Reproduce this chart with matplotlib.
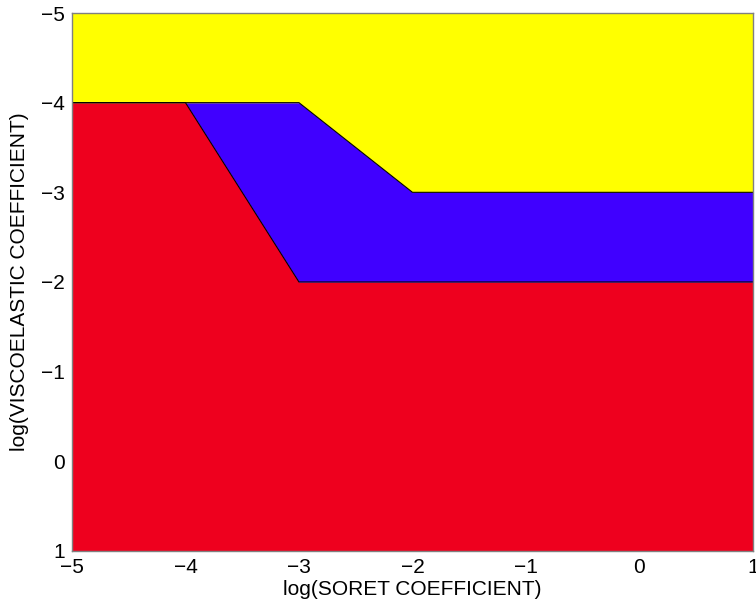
import numpy as np
import matplotlib
matplotlib.use("Agg")
import matplotlib.pyplot as plt

plt.rcParams['font.family'] = ['Liberation Sans', 'DejaVu Sans']

# boundary curves: log(soret) vs log(viscoelastic)
x_lower = [-5, -4, -3, 1]
y_lower = [-4, -4, -2, -2]
x_upper = [-5, -4, -3, -2, 1]
y_upper = [-4, -4, -4, -3, -3]

x_ticks = [-5, -4, -3, -2, -1, 0, 1]
y_ticks = [-5, -4, -3, -2, -1, 0, 1]

red = '#EE001E'
blue = '#4000FF'
yellow = '#FFFF00'

fig = plt.figure(figsize=(7.56, 6.08), dpi=100)
ax = fig.add_axes([0.0952, 0.0938, 0.9008, 0.8848])

xs = np.array([-5, -4, -3, -2, 1], dtype=float)
lo = np.interp(xs, x_lower, y_lower)
hi = np.interp(xs, x_upper, y_upper)

ax.fill_between(xs, 1, lo, color=red, lw=0)
ax.fill_between(xs, lo, hi, color=blue, lw=0)
ax.fill_between(xs, hi, -5, color=yellow, lw=0)
ax.plot(x_lower, y_lower, color='k', lw=0.8)
ax.plot(x_upper, y_upper, color='k', lw=0.8)

ax.set_xlim(-5, 1)
ax.set_ylim(1, -5)
ax.set_xticks(x_ticks)
ax.set_yticks(y_ticks)
ax.set_xticklabels(['\u22125', '\u22124', '\u22123', '\u22122', '\u22121', '0', '1'])
ax.set_yticklabels(['\u22125', '\u22124', '\u22123', '\u22122', '\u22121', '0', '1'])
ax.tick_params(axis='x', length=0, labelsize=15, pad=5)
ax.tick_params(axis='y', length=0, labelsize=15, pad=5)
for s in ax.spines.values():
    s.set_color('#808080')
    s.set_linewidth(1)

ax.set_xlabel('log(SORET COEFFICIENT)', fontsize=15, labelpad=2)
ax.set_ylabel('log(VISCOELASTIC COEFFICIENT)', fontsize=15, labelpad=9)

fig.savefig('out.png', dpi=100)
